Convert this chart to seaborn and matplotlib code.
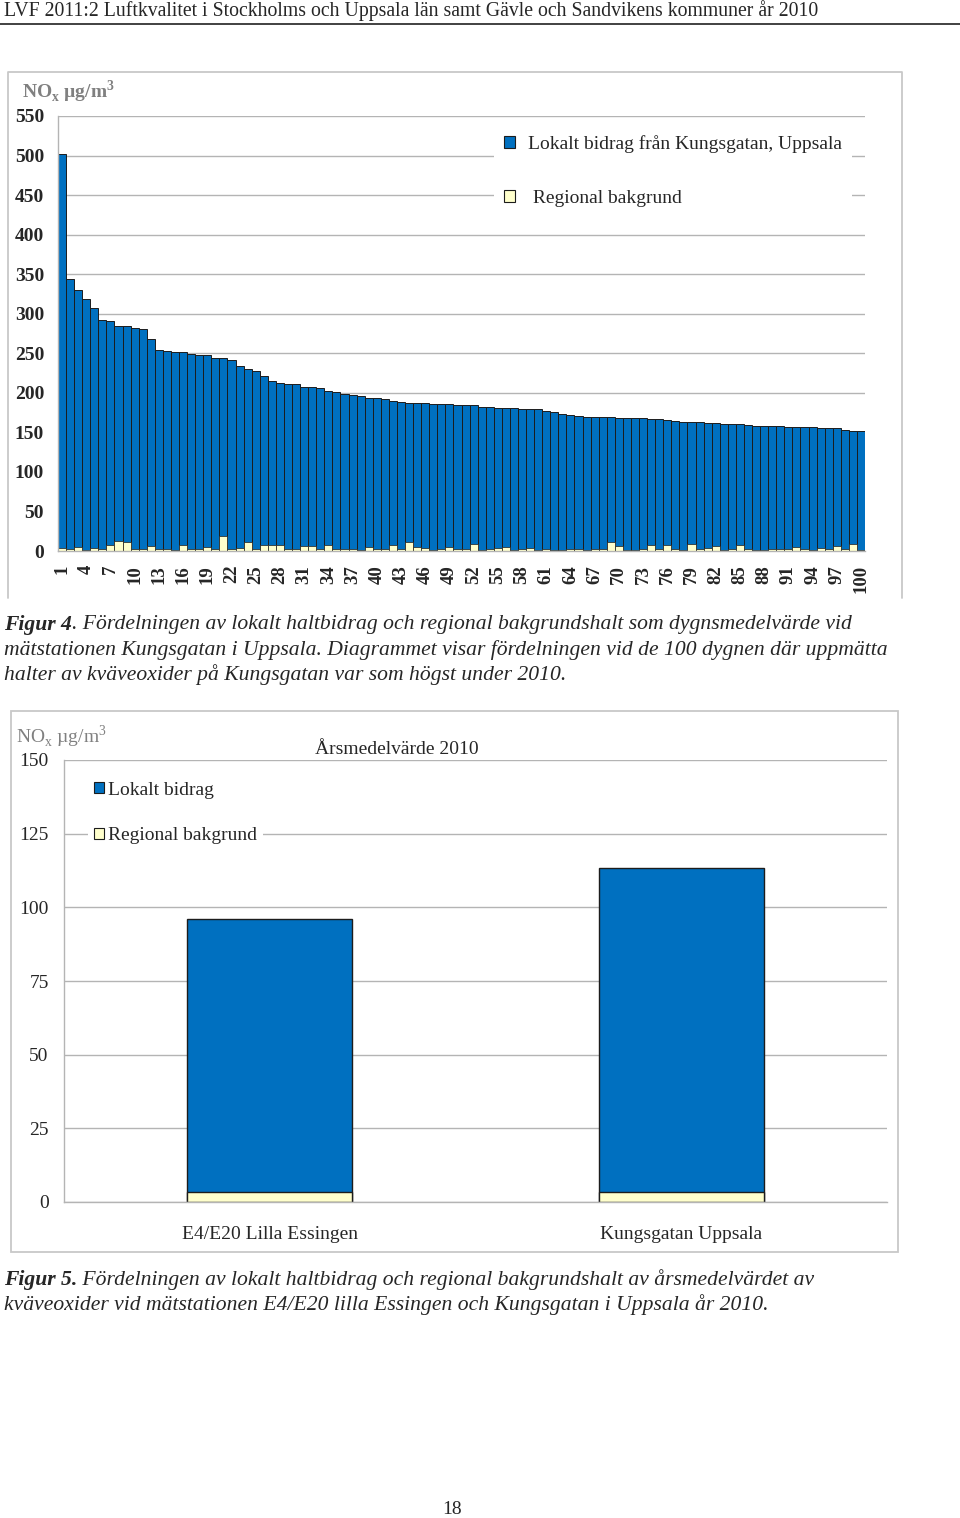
import matplotlib
matplotlib.use("Agg")
import numpy as np
import pandas as pd
import seaborn as sns
import matplotlib.pyplot as plt
from matplotlib.patches import Patch, Rectangle
from matplotlib.lines import Line2D

# --- data: figure 4, the 100 days with highest NOx at Kungsgatan (ug/m3) ---
days = list(range(1, 101))
local = [498, 342, 325, 318, 303, 289, 284, 271, 273, 279,
         279, 262, 252, 251, 251, 244, 247, 246, 243, 242,
         225, 239, 230, 218, 226, 213, 208, 204, 209, 208,
         201, 201, 203, 194, 199, 197, 195, 195, 188, 191,
         189, 182, 185, 175, 182, 183, 185, 183, 181, 183,
         183, 176, 181, 180, 177, 176, 180, 178, 175, 178,
         175, 175, 172, 170, 169, 169, 168, 166, 158, 162,
         167, 167, 166, 160, 165, 159, 162, 162, 154, 161,
         158, 156, 160, 158, 153, 157, 157, 157, 156, 156,
         154, 152, 155, 156, 151, 153, 149, 151, 143, 151]
regional = [4, 2, 5, 1, 4, 3, 7, 13, 11, 3,
            2, 6, 2, 2, 1, 7, 2, 2, 5, 2,
            19, 2, 4, 12, 2, 8, 7, 8, 2, 3,
            6, 6, 3, 8, 2, 2, 2, 1, 5, 2,
            3, 8, 3, 12, 5, 4, 1, 3, 5, 2,
            2, 9, 1, 2, 4, 5, 1, 2, 4, 1,
            2, 1, 1, 2, 2, 1, 2, 3, 11, 6,
            1, 1, 2, 7, 2, 7, 2, 1, 9, 2,
            4, 6, 1, 2, 7, 2, 1, 1, 2, 2,
            3, 5, 2, 1, 4, 2, 6, 2, 9, 1]

# --- data: figure 5, annual means 2010 ---
sites = ["E4/E20 Lilla Essingen", "Kungsgatan Uppsala"]
site_local = [92.7, 110.0]
site_regional = [3.3, 3.3]

BLUE = "#0070C0"
CREAM = "#FFFFCC"
EDGE = "#1c1c1c"
GRID = "#b4b4b4"
GRAY = "#808080"

W, H = 960, 1518
sns.set_style("white")
plt.rcParams["font.family"] = ["Liberation Serif", "DejaVu Serif"]
plt.rcParams["mathtext.fontset"] = "custom"
plt.rcParams["mathtext.rm"] = "Liberation Serif"
plt.rcParams["mathtext.bf"] = "Liberation Serif:bold"

fig = plt.figure(figsize=(W / 100, H / 100), dpi=100)


def fx(x):
    return x / W


def fy(y):
    return 1 - y / H


# page header
fig.text(fx(4), fy(11), "LVF 2011:2 Luftkvalitet i Stockholms och Uppsala län samt "
         "Gävle och Sandvikens kommuner år 2010", fontsize=14.2, va="center")
fig.add_artist(Line2D([0, 1], [fy(24), fy(24)], color="#333333", lw=1.3))

# ---------------- figure 4 ----------------
df1 = pd.DataFrame({"day": days, "local": local, "regional": regional})
df1["top"] = df1["local"] + df1["regional"]

ax1 = fig.add_axes([fx(58), fy(551), fx(807), 435 / H])
sns.barplot(data=df1, x="day", y="top", color=BLUE, saturation=1, width=1.0,
            edgecolor=EDGE, linewidth=0.7, errorbar=None, ax=ax1)
sns.barplot(data=df1, x="day", y="regional", color=CREAM, saturation=1, width=1.0,
            edgecolor=EDGE, linewidth=0.5, errorbar=None, ax=ax1)
ax1.set_xlim(-0.5, 99.5)
ax1.set_ylim(0, 550)
ax1.set_yticks(range(0, 551, 50))
ax1.set_yticklabels([str(v) for v in range(0, 551, 50)], fontsize=14, fontweight="bold")
ax1.set_xticks(range(0, 100, 3))
ax1.set_xticklabels([str(d) for d in days[::3]], rotation=90, fontsize=13.5,
                    fontweight="bold", va="top")
ax1.set_xticks(np.arange(-0.5, 100, 1), minor=True)
ax1.tick_params(axis="x", which="major", length=0, pad=10)
ax1.tick_params(axis="x", which="minor", length=4, color=GRID, width=1)
ax1.tick_params(axis="y", length=5, color=GRID, width=1, pad=5)
ax1.set_xlabel("")
ax1.set_ylabel("")
ax1.yaxis.grid(True, color=GRID, lw=1)
ax1.set_axisbelow(True)
for s in ["top", "right"]:
    ax1.spines[s].set_visible(False)
for s in ["left", "bottom"]:
    ax1.spines[s].set_color(GRID)
    ax1.spines[s].set_linewidth(1)

ax1.legend(handles=[Patch(fc=BLUE, ec=EDGE, lw=0.8, label="Lokalt bidrag från Kungsgatan, Uppsala"),
                    Patch(fc=CREAM, ec=EDGE, lw=0.8, label=" Regional bakgrund")],
           loc="upper left", bbox_to_anchor=(fx(494), fy(125)), bbox_transform=fig.transFigure,
           frameon=True, framealpha=1, facecolor="white", edgecolor="none", fancybox=False,
           fontsize=14, handlelength=0.6, handleheight=0.6, handletextpad=0.65,
           labelspacing=1.9, borderpad=0.5, borderaxespad=0)

fig.text(fx(22), fy(92), r"NO$_\mathbf{x}$ µg/m$^\mathbf{3}$", fontsize=14,
         fontweight="bold", color=GRAY, va="center")

# chart frame (bottom cut off as in the report)
fig.add_artist(Line2D([fx(8), fx(8), fx(902), fx(902)], [fy(598), fy(72), fy(72), fy(598)],
                      color="#c8c8c8", lw=1.3))

# ---------------- figure 5 ----------------
df2 = pd.DataFrame({"site": sites, "local": site_local, "regional": site_regional})
df2["top"] = df2["local"] + df2["regional"]

ax2 = fig.add_axes([fx(64), fy(1202), fx(823), 442 / H])
sns.barplot(data=df2, x="site", y="top", color=BLUE, saturation=1, width=0.4,
            edgecolor=EDGE, linewidth=1, errorbar=None, ax=ax2)
sns.barplot(data=df2, x="site", y="regional", color=CREAM, saturation=1, width=0.4,
            edgecolor=EDGE, linewidth=1, errorbar=None, ax=ax2)
ax2.set_xlim(-0.5, 1.5)
ax2.set_ylim(0, 150)
ax2.set_yticks(range(0, 151, 25))
ax2.set_yticklabels([str(v) for v in range(0, 151, 25)], fontsize=14)
ax2.set_xticks([0, 1])
ax2.set_xticklabels(sites, fontsize=14)
ax2.set_xticks([-0.5, 0.5, 1.5], minor=True)
ax2.tick_params(axis="x", which="major", length=0, pad=17)
ax2.tick_params(axis="x", which="minor", length=5, color=GRID, width=1)
ax2.tick_params(axis="y", length=6, color=GRID, width=1, pad=5)
ax2.set_xlabel("")
ax2.set_ylabel("")
ax2.yaxis.grid(True, color=GRID, lw=1)
ax2.set_axisbelow(True)
for s in ["top", "right"]:
    ax2.spines[s].set_visible(False)
for s in ["left", "bottom"]:
    ax2.spines[s].set_color(GRID)
    ax2.spines[s].set_linewidth(1)

ax2.legend(handles=[Patch(fc=BLUE, ec=EDGE, lw=0.8, label="Lokalt bidrag"),
                    Patch(fc=CREAM, ec=EDGE, lw=0.8, label="Regional bakgrund")],
           loc="upper left", bbox_to_anchor=(fx(88), fy(776)), bbox_transform=fig.transFigure,
           frameon=True, framealpha=1, facecolor="white", edgecolor="none", fancybox=False,
           fontsize=14, handlelength=0.5, handleheight=0.5, handletextpad=0.25,
           labelspacing=1.45, borderpad=0.3, borderaxespad=0)

fig.text(fx(16), fy(737), r"NO$_\mathrm{x}$ µg/m$^\mathrm{3}$", fontsize=14,
         color=GRAY, va="center")
fig.text(fx(397), fy(750), "Årsmedelvärde 2010", fontsize=14, ha="center", va="center")
fig.add_artist(Rectangle((fx(11), fy(1252)), fx(887), 541 / H, fill=False,
                         ec="#c8c8c8", lw=1.3, transform=fig.transFigure))

# ---------------- captions ----------------
renderer = fig.canvas.get_renderer()
CAP = 15.6


def caption_line(y, bold, rest):
    x = fx(4)
    if bold:
        t = fig.text(x, fy(y), bold, fontsize=CAP, style="italic", fontweight="bold", va="center")
        bb = t.get_window_extent(renderer=renderer)
        x = bb.x1 / W
    fig.text(x, fy(y), rest, fontsize=CAP, style="italic", va="center")


caption_line(625, "Figur 4", ". Fördelningen av lokalt haltbidrag och regional bakgrundshalt "
             "som dygnsmedelvärde vid")
caption_line(650, None, "mätstationen Kungsgatan i Uppsala. Diagrammet visar fördelningen vid "
             "de 100 dygnen där uppmätta")
caption_line(675, None, "halter av kväveoxider på Kungsgatan var som högst under 2010.")
caption_line(1280, "Figur 5.", " Fördelningen av lokalt haltbidrag och regional bakgrundshalt "
             "av årsmedelvärdet av")
caption_line(1305, None, "kväveoxider vid mätstationen E4/E20 lilla Essingen och Kungsgatan "
             "i Uppsala år 2010.")

fig.text(fx(452), fy(1510), "18", fontsize=14, ha="center", va="center")

fig.savefig("out.png", dpi=100)
